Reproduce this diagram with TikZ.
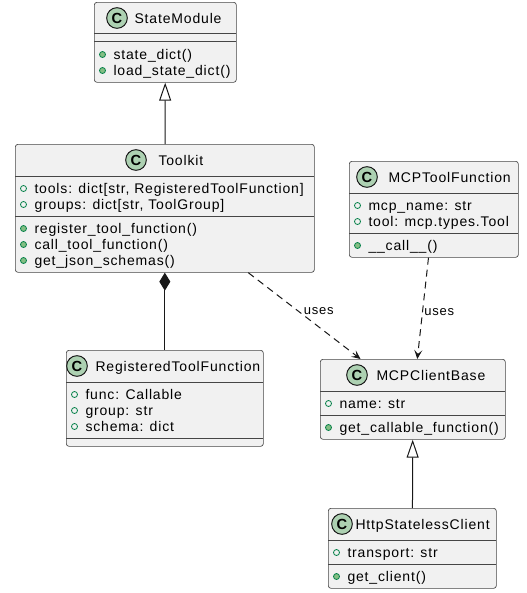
\documentclass[tikz,border=0pt]{standalone}
\usepackage{fontspec}
\setmainfont{Liberation Sans}[LetterSpace=6]
\newfontfamily\badgefont{Liberation Sans}
\usetikzlibrary{arrows.meta}

\definecolor{umlfill}{HTML}{F1F1F1}
\definecolor{umlline}{HTML}{181818}
\definecolor{badgegreen}{HTML}{ADD1B2}
\definecolor{dotgreen}{HTML}{038048}
\definecolor{dotfill}{HTML}{84BE84}

\begin{document}
\begin{tikzpicture}[x=0.75pt, y=-0.75pt, line width=0.75pt, font=\fontsize{10.5}{12}\selectfont,
  classbox/.style 2 args={draw=umlline!80, fill=umlfill, line width=0.5pt, rounded corners=2pt,
    anchor=north west, inner sep=0pt, minimum width=#1*0.75pt, minimum height=#2*0.75pt},
  sep/.style={draw=umlline!80, line width=0.5pt},
  badge/.style={circle, draw=umlline, fill=badgegreen, line width=0.75pt, inner sep=0pt,
    minimum size=15.5pt, font=\badgefont\fontsize{11}{12}\selectfont\bfseries},
  title/.style={anchor=west, inner sep=0pt, text height=8pt, text depth=0.5pt},
  member/.style={anchor=west, inner sep=0pt, text height=8pt, text depth=0.5pt},
  attr/.style={draw=dotgreen, line width=0.6pt},
  meth/.style={draw=dotgreen, fill=dotfill, line width=0.6pt},
  uses/.style={draw=umlline, dash pattern=on 5.25pt off 3.75pt,
    -{Stealth[length=6.75pt, width=6pt, inset=3pt]}},
  lbl/.style={anchor=west, inner sep=0pt, font=\fontsize{9.75}{11}\selectfont}]
\useasboundingbox (0,0) rectangle (527,593);

% StateModule
\node[classbox={142}{80}] (sm) at (94,2) {};
\node[badge] (sm-c) at (117,18) {C};
\node[title] (sm-t) at (134,18) {StateModule};
\draw[sep] (94,33) -- (236,33);
\draw[sep] (94,41) -- (236,41);
\foreach \m [count=\i] in {state\_dict(), load\_state\_dict()} {
    \draw[meth] (102.5,38.5+16*\i) circle[radius=2.25pt];
    \node[member] (sm-m\i) at (113,38.5+16*\i) {\m};
}

% Toolkit
\node[classbox={299}{128}] (tk) at (15,144) {};
\node[badge] (tk-c) at (136,160) {C};
\node[title] (tk-t) at (158,160) {Toolkit};
\draw[sep] (15,176) -- (314,176);
\draw[sep] (15,216) -- (314,216);
\foreach \a [count=\i] in {{tools: dict[str, RegisteredToolFunction]}, {groups: dict[str, ToolGroup]}} {
    \draw[attr] (23.5,172.5+16*\i) circle[radius=2.25pt];
    \node[member] (tk-a\i) at (34,172.5+16*\i) {\a};
}
\foreach \m [count=\i] in {register\_tool\_function(), call\_tool\_function(), get\_json\_schemas()} {
    \draw[meth] (23.5,212.5+16*\i) circle[radius=2.25pt];
    \node[member] (tk-m\i) at (34,212.5+16*\i) {\m};
}

% MCPToolFunction
\node[classbox={169}{96}] (mtf) at (349,161) {};
\node[badge] (mtf-c) at (367,177) {C};
\node[title] (mtf-t) at (388,177) {MCPToolFunction};
\draw[sep] (349,193) -- (518,193);
\draw[sep] (349,233) -- (518,233);
\foreach \a [count=\i] in {mcp\_name: str, tool: mcp.types.Tool} {
    \draw[attr] (357.5,189.5+16*\i) circle[radius=2.25pt];
    \node[member] (mtf-a\i) at (368,189.5+16*\i) {\a};
}
\draw[meth] (357.5,245.5) circle[radius=2.25pt];
\node[member] (mtf-m1) at (368,245.5) {\_\_call\_\_()};

% RegisteredToolFunction
\node[classbox={197}{96}] (rtf) at (66,350) {};
\node[badge] (rtf-c) at (77,366) {C};
\node[title] (rtf-t) at (95,366) {RegisteredToolFunction};
\draw[sep] (66,382) -- (263,382);
\draw[sep] (66,438) -- (263,438);
\foreach \a [count=\i] in {func: Callable, group: str, schema: dict} {
    \draw[attr] (74.5,378.5+16*\i) circle[radius=2.25pt];
    \node[member] (rtf-a\i) at (85,378.5+16*\i) {\a};
}

% MCPClientBase
\node[classbox={185}{80}] (mcb) at (320,359) {};
\node[badge] (mcb-c) at (357,375) {C};
\node[title] (mcb-t) at (376,375) {MCPClientBase};
\draw[sep] (320,391) -- (505,391);
\draw[sep] (320,415) -- (505,415);
\draw[attr] (328.5,403.5) circle[radius=2.25pt];
\node[member] (mcb-a1) at (339,403.5) {name: str};
\draw[meth] (328.5,427.5) circle[radius=2.25pt];
\node[member] (mcb-m1) at (339,427.5) {get\_callable\_function()};

% HttpStatelessClient
\node[classbox={168}{80}] (hsc) at (328,508) {};
\node[badge] (hsc-c) at (342,524) {C};
\node[title] (hsc-t) at (355,524) {HttpStatelessClient};
\draw[sep] (328,540) -- (496,540);
\draw[sep] (328,564) -- (496,564);
\draw[attr] (336.5,552.5) circle[radius=2.25pt];
\node[member] (hsc-a1) at (347,552.5) {transport: str};
\draw[meth] (336.5,576.5) circle[radius=2.25pt];
\node[member] (hsc-m1) at (347,576.5) {get\_client()};

% relations
\draw[umlline, -{Triangle[open, length=13.5pt, width=9pt]}] (tk) -- (sm);
\draw[umlline, {Diamond[length=13.5pt, width=8.25pt]}-] (tk) -- (rtf);
\draw[uses] (tk) -- node[lbl, pos=0.45, xshift=3.5pt] {uses} (mcb);
\draw[uses] (mtf) -- node[lbl, pos=0.54, xshift=1pt] {uses} (mcb);
\draw[umlline, -{Triangle[open, length=13.5pt, width=9pt]}] (hsc) -- (mcb);
\end{tikzpicture}
\end{document}
